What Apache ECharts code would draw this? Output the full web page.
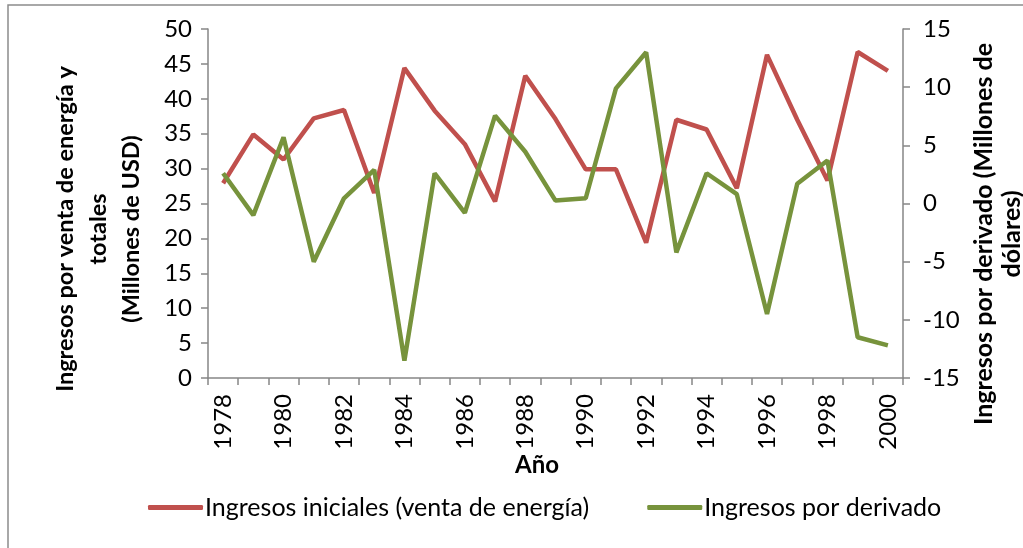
<!DOCTYPE html>
<html>
<head>
<meta charset="utf-8">
<script src="https://cdn.jsdelivr.net/npm/echarts@6/dist/echarts.min.js"></script>
<style>
  html, body { margin: 0; padding: 0; background: #fff; }
  #chart { width: 1023px; height: 548px; }
</style>
</head>
<body>
<div id="chart"></div>
<script>
// years on the x axis
const years = ["1978","1979","1980","1981","1982","1983","1984","1985","1986","1987","1988","1989",
               "1990","1991","1992","1993","1994","1995","1996","1997","1998","1999","2000"];

// left axis (Millones de USD)
const ingresosIniciales = [27.9, 34.9, 31.3, 37.2, 38.4, 26.5, 44.4, 38.3, 33.5, 25.3, 43.3, 37.1,
                           29.9, 29.9, 19.4, 37.0, 35.6, 27.2, 46.3, 37.0, 28.3, 46.7, 44.0];

// right axis (Millones de dólares)
const ingresosDerivado = [2.6, -1.0, 5.7, -5.0, 0.45, 2.9, -13.5, 2.6, -0.8, 7.55, 4.45, 0.25,
                          0.45, 9.9, 13.0, -4.2, 2.6, 0.8, -9.5, 1.7, 3.7, -11.5, -12.2];

const FONT = "Lato";
const AXIS_GRAY = "#868686";
const RED = "#C0504D";
const GREEN = "#77933C";

const chart = echarts.init(document.getElementById("chart"));

const option = {
  backgroundColor: "#fff",
  animation: false,
  textStyle: { fontFamily: FONT },
  grid: { left: 208, right: 120, top: 29, bottom: 170 },
  legend: {
    left: 143,
    top: 490,
    itemWidth: 55,
    itemHeight: 5,
    itemGap: 58,
    icon: "roundRect",
    textStyle: { fontFamily: FONT, fontSize: 25, color: "#000", padding: [0, 0, 0, -3] },
    data: ["Ingresos iniciales (venta de energía)", "Ingresos por derivado"]
  },
  xAxis: {
    type: "category",
    data: years,
    boundaryGap: true,
    axisLine: { lineStyle: { color: AXIS_GRAY, width: 1.5 } },
    axisTick: { show: true, interval: 0, length: 7, lineStyle: { color: AXIS_GRAY, width: 1.5 } },
    axisLabel: { rotate: 90, interval: 1, margin: 16, fontSize: 24, color: "#000", fontFamily: FONT },
    splitLine: { show: false }
  },
  yAxis: [
    {
      type: "value",
      min: 0, max: 50, interval: 5,
      axisLine: { show: true, lineStyle: { color: AXIS_GRAY, width: 1.5 } },
      axisTick: { show: true, length: 7, lineStyle: { color: AXIS_GRAY, width: 1.5 } },
      axisLabel: { margin: 16, fontSize: 24, color: "#000", fontFamily: FONT },
      splitLine: { show: false }
    },
    {
      type: "value",
      min: -15, max: 15, interval: 5,
      position: "right",
      axisLine: { show: true, lineStyle: { color: AXIS_GRAY, width: 1.5 } },
      axisTick: { show: true, length: 7, lineStyle: { color: AXIS_GRAY, width: 1.5 } },
      axisLabel: { margin: 20, fontSize: 24, color: "#000", fontFamily: FONT },
      splitLine: { show: false }
    }
  ],
  series: [
    {
      name: "Ingresos iniciales (venta de energía)",
      type: "line",
      yAxisIndex: 0,
      data: ingresosIniciales,
      symbol: "none",
      color: RED,
      lineStyle: { color: RED, width: 4.5 }
    },
    {
      name: "Ingresos por derivado",
      type: "line",
      yAxisIndex: 1,
      data: ingresosDerivado,
      symbol: "none",
      color: GREEN,
      lineStyle: { color: GREEN, width: 4.5 }
    }
  ],
  graphic: [
    {
      type: "rect",
      shape: { x: 8, y: 5, width: 1100, height: 700 },
      style: { fill: "none", stroke: "#8c8c8c", lineWidth: 1.5 },
      silent: true
    },
    {
      type: "text",
      x: 98, y: 229,
      rotation: Math.PI / 2,
      style: {
        text: "Ingresos por venta de energía y\ntotales\n(Millones de USD)",
        fontFamily: FONT, fontWeight: "bold", fontSize: 23.5, lineHeight: 33,
        align: "center", verticalAlign: "middle", fill: "#000"
      }
    },
    {
      type: "text",
      x: 998, y: 234,
      rotation: Math.PI / 2,
      style: {
        text: "Ingresos por derivado (Millones de\ndólares)",
        fontFamily: FONT, fontWeight: "bold", fontSize: 25, lineHeight: 28,
        align: "center", verticalAlign: "middle", fill: "#000"
      }
    },
    {
      type: "text",
      x: 537, y: 465,
      style: {
        text: "Año",
        fontFamily: FONT, fontWeight: "bold", fontSize: 24,
        align: "center", verticalAlign: "middle", fill: "#000"
      }
    }
  ]
};

chart.setOption(option);
</script>
</body>
</html>
